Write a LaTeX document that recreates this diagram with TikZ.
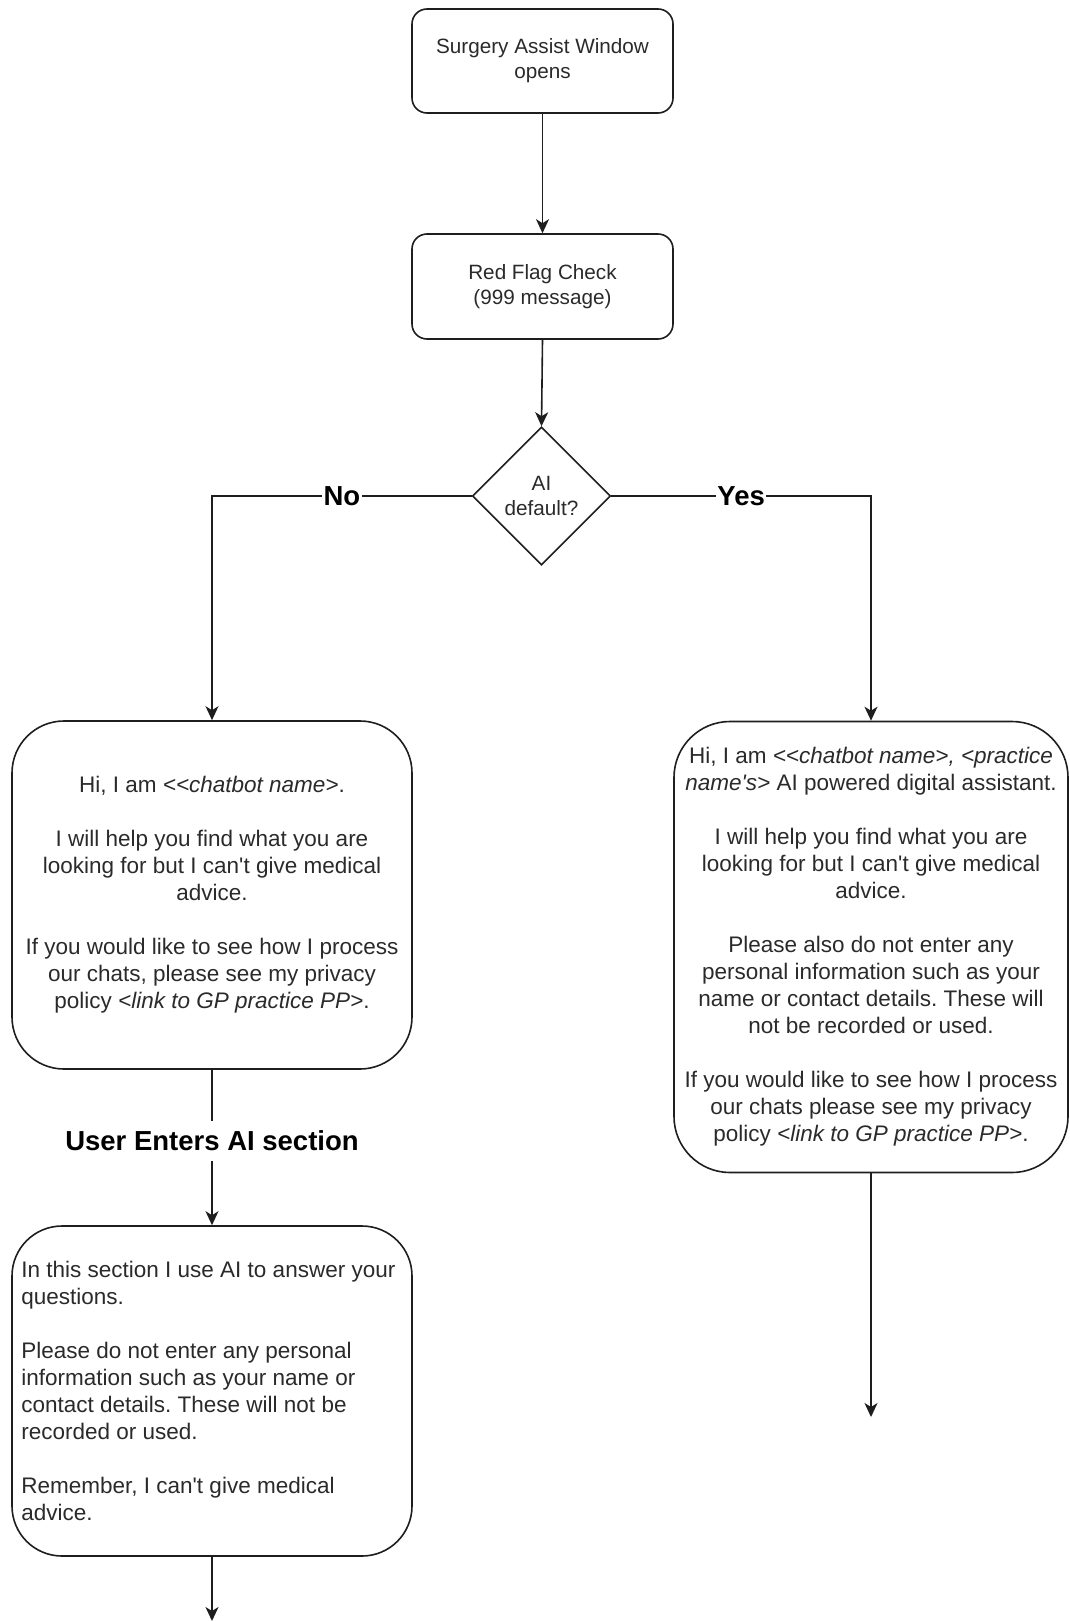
\documentclass[tikz,border=0pt]{standalone}
\usepackage{fontspec}
\setmainfont[Ligatures=ResetAll]{Liberation Sans}
\usetikzlibrary{shapes.geometric,arrows.meta}
\definecolor{txt}{HTML}{2A2A2A}
\definecolor{ln}{HTML}{1E1E1E}
\newcommand{\smallf}{\fontsize{20.7}{25}\selectfont}
\newcommand{\bigf}{\fontsize{22.5}{27}\selectfont}
\newcommand{\ap}{\textquotesingle}
\newcommand{\lt}{\textless\kern0pt}
\newcommand{\gt}{\textgreater\kern0pt}
\frenchspacing
\begin{document}
\begin{tikzpicture}[x=1pt,y=-1pt,
  box/.style={draw=ln, line width=1.6pt, rounded corners=#1, align=center, text=txt, inner sep=0pt},
  decision/.style={draw=ln, line width=1.6pt, diamond, aspect=1, inner sep=0pt, minimum width=138pt, minimum height=138pt, align=center, text=txt, font=\smallf},
  arr/.style={-{Stealth[length=14pt,width=13pt,inset=4pt]}, line width=1.6pt, draw=ln},
  conn/.style={line width=1.6pt, draw=ln},
  lbl/.style={fill=white, font=\fontsize{27.5}{33}\selectfont\bfseries, inner sep=1.5pt, text=black}
]
\useasboundingbox (0,0) rectangle (1069,1622);

\node[box=15pt, minimum width=261pt, minimum height=104pt, font=\smallf] (start) at (542.5,61) {Surgery Assist Window\\opens};
\node[box=15pt, minimum width=261pt, minimum height=105pt, font=\smallf] (red) at (542.5,286.5) {Red Flag Check\\(999 message)};
\node[decision] (dia) at (541.5,496) {AI\\default?};

\node[box=52pt, minimum width=400pt, minimum height=348pt, font=\bigf] (lb1) at (212,895)
 {Hi, I am \textit{\lt\lt chatbot name\gt}.\\[27pt]
  I will help you find what you are\\looking for but I can\ap t give medical\\advice.\\[27pt]
  If you would like to see how I process\\our chats, please see my privacy\\policy \textit{\lt link to GP practice PP\gt}.};

\node[box=56pt, minimum width=394pt, minimum height=451pt, font=\bigf] (rb) at (871,947)
 {Hi, I am \textit{\lt\lt chatbot name\gt, \lt practice}\\\textit{name\ap s\gt} AI powered digital assistant.\\[27pt]
  I will help you find what you are\\looking for but I can\ap t give medical\\advice.\\[27pt]
  Please also do not enter any\\personal information such as your\\name or contact details. These will\\not be recorded or used.\\[27pt]
  If you would like to see how I process\\our chats please see my privacy\\policy \textit{\lt link to GP practice PP\gt}.};

\node[box=50pt, minimum width=400pt, minimum height=330pt] (lb2) at (212,1391) {};
\node[anchor=west, align=left, font=\bigf, text=txt, inner sep=0pt] (lb2t) at ([xshift=10pt]lb2.west)
 {In this section I use AI to answer your\\questions.\\[27pt]
  Please do not enter any personal\\information such as your name or\\contact details. These will not be\\recorded or used.\\[27pt]
  Remember, I can\ap t give medical\\advice.};

\node[font=\fontsize{27.5}{33}\selectfont\bfseries, text=black, inner xsep=2pt, inner ysep=10pt] (ua) at (212,1141) {User Enters AI section};

\coordinate (rend) at (871,1417);
\coordinate (lend) at (212,1621);

\draw[arr] (start.south) -- (red.north);
\draw[arr] (red.south) -- (dia.north);
\draw[arr] (dia.west) -| node[lbl, pos=0.25] {No} (lb1.north);
\draw[arr] (dia.east) -| node[lbl, pos=0.25] {Yes} (rb.north);
\draw[conn] (lb1.south) -- (ua.north);
\draw[arr] (ua.south) -- (lb2.north);
\draw[arr] (rb.south) -- (rend);
\draw[arr] (lb2.south) -- (lend);
\end{tikzpicture}
\end{document}
